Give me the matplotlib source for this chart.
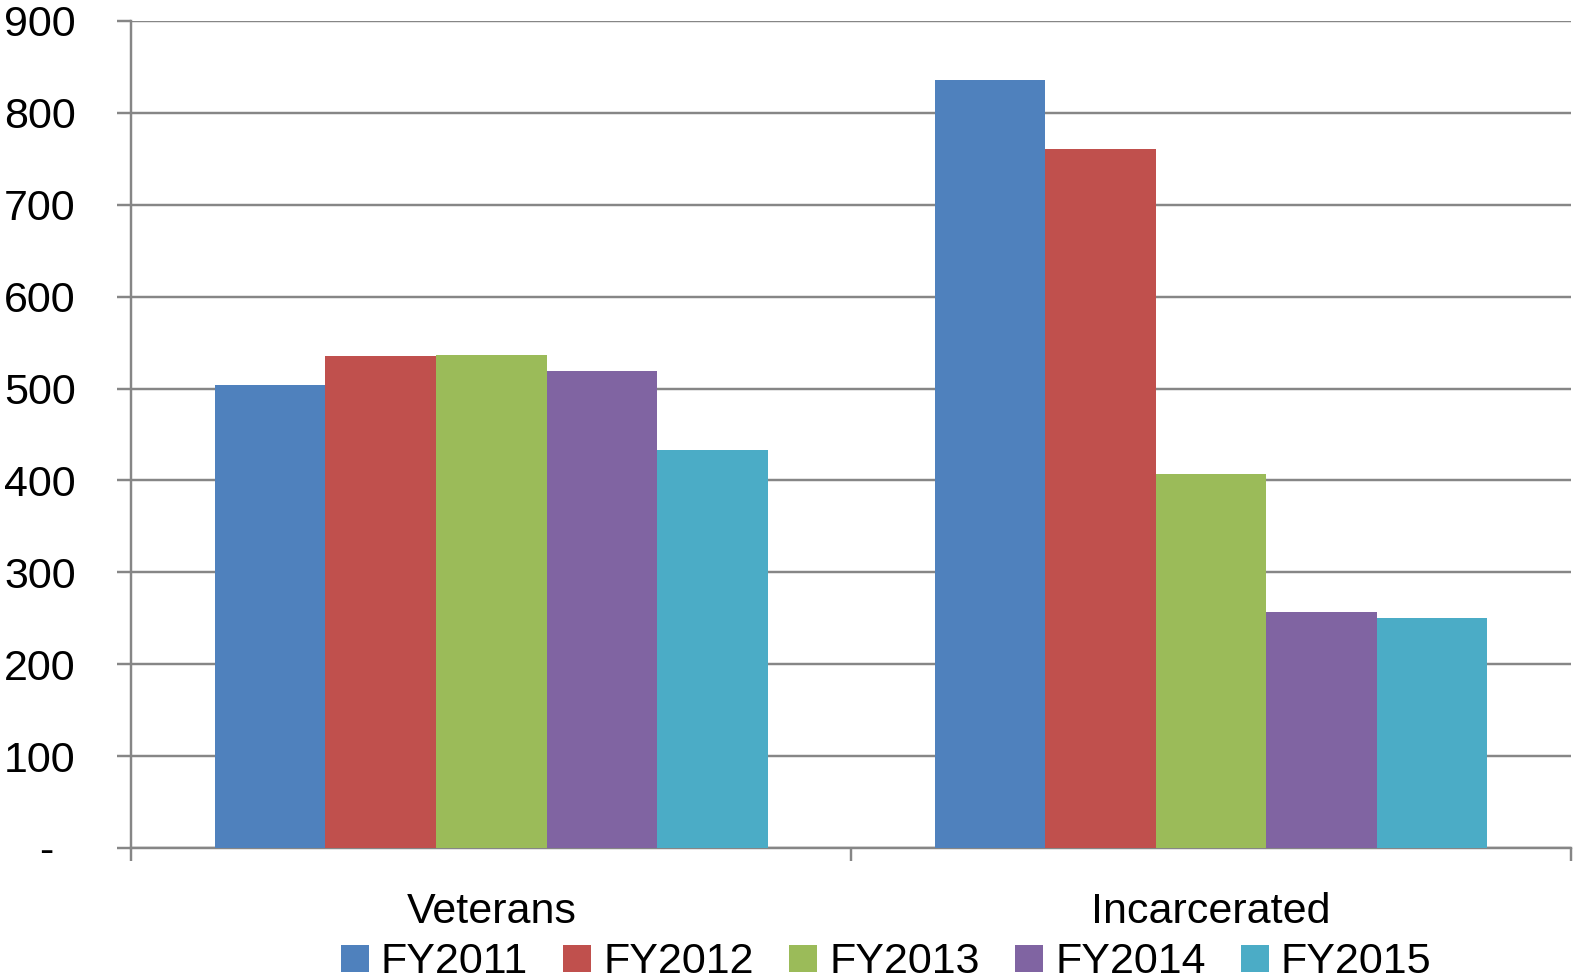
import matplotlib
matplotlib.use("Agg")
import matplotlib.pyplot as plt
import numpy as np
from matplotlib.transforms import ScaledTranslation

plt.rcParams['font.family'] = ['Liberation Sans', 'DejaVu Sans']

categories = ["Veterans", "Incarcerated"]
years = ["FY2011", "FY2012", "FY2013", "FY2014", "FY2015"]
values = {
    "FY2011": [504, 836],
    "FY2012": [535, 761],
    "FY2013": [536, 407],
    "FY2014": [519, 257],
    "FY2015": [433, 250],
}
colors = ["#4F81BD", "#C0504D", "#9BBB59", "#8064A2", "#4BACC6"]
yticks = list(range(0, 1000, 100))
ytick_labels = ["-"] + [str(v) for v in yticks[1:]]

fig = plt.figure(figsize=(15.74, 9.80), dpi=100)
ax = fig.add_axes([0.0835, 0.1347, 0.9145, 0.8439])

grid_col = "#868686"
group_w = 0.768
bw = group_w / len(years)
x = np.arange(len(categories))
for i, (yr, c) in enumerate(zip(years, colors)):
    offs = -group_w / 2 + bw * (i + 0.5)
    ax.bar(x + offs, values[yr], width=bw, color=c, label=yr,
           edgecolor="none", zorder=3)

ax.set_xlim(-0.5, 1.5)
ax.set_ylim(0, 900)
ax.set_yticks(yticks)
ax.set_yticklabels(ytick_labels, fontsize=31)
ax.yaxis.grid(True, color=grid_col, linewidth=1.75, zorder=0)
ax.tick_params(axis="y", direction="out", length=10, width=1.75,
               color=grid_col, pad=30)

# category boundaries carry tick marks, labels sit at the centres
ax.set_xticks([-0.5, 0.5, 1.5])
ax.set_xticklabels([])
ax.set_xticks(x, minor=True)
ax.set_xticklabels(categories, minor=True, fontsize=31)
ax.tick_params(axis="x", which="major", direction="out", length=9,
               width=1.75, color=grid_col)
ax.tick_params(axis="x", which="minor", length=0, pad=32)

for s in ["top", "right"]:
    ax.spines[s].set_visible(False)
for s in ["left", "bottom"]:
    ax.spines[s].set_color(grid_col)
    ax.spines[s].set_linewidth(1.75)

# shift the zero label left, as in an accounting number format
zero_lbl = ax.get_yticklabels()[0]
zero_lbl.set_transform(zero_lbl.get_transform()
                       + ScaledTranslation(-0.22, 0, fig.dpi_scale_trans))

fig.legend(loc="center", bbox_to_anchor=(0.563, 0.018), ncol=5,
           frameon=False, fontsize=31, handlelength=0.65, handleheight=0.6,
           handletextpad=0.28, columnspacing=0.82, borderpad=0,
           borderaxespad=0)

fig.savefig("out.png", dpi=100)
